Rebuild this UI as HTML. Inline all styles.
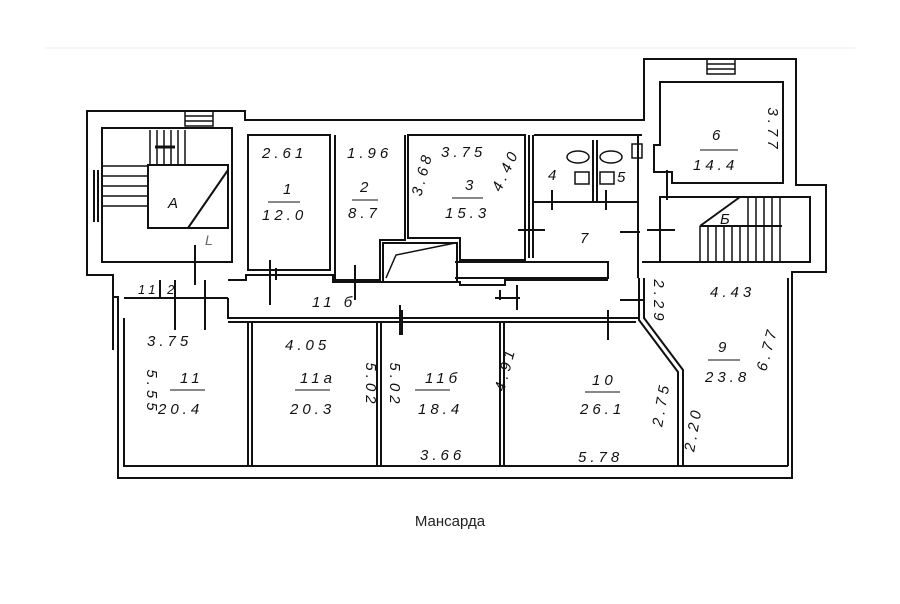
<!DOCTYPE html>
<html><head><meta charset="utf-8"><style>
html,body{margin:0;padding:0;background:#fff;width:900px;height:604px;overflow:hidden}
svg{position:absolute;left:0;top:0}
.t{font-family:"Liberation Sans",sans-serif;font-style:italic;font-size:15px;fill:#111;letter-spacing:4px}
.r{text-anchor:middle}
</style></head><body>
<svg width="900" height="604" viewBox="0 0 900 604">
<line x1="45" y1="48" x2="855" y2="48" stroke="#eee" stroke-width="1"/>
<g fill="none" stroke="#111" stroke-width="2">
<path d="M87,111 H245 V120 H644 V59 H796 V185 H826 V272 H792 V478 H118 V297 H113 V275 H87 Z"/>
<path d="M102,128 H232 V262 H102 Z"/>
<path d="M148,165 H228 V228 H148 Z"/>
<path d="M102,166 H148 M102,176 H148 M102,186 H148 M102,196 H148 M102,206 H148" stroke-width="1.5"/>
<path d="M150,130 V165 M157,130 V165 M164,130 V165 M171,130 V165 M178,130 V165 M185,130 V165" stroke-width="1.5"/>
<path d="M188,228 L228,170" />
<path d="M185,111 H213 V126 H185 Z M185,116 H213 M185,121 H213" stroke-width="1.5"/>
<path d="M94,170 V222 M98,170 V222"/>
<path d="M248,135 V270 H330 V135 Z"/>
<path d="M335,135 V280 H380 V240 H405 V135" />
<path d="M408,135 V238 H460 V260 H525 V135 Z"/>
<path d="M383,243 H457 V282 H383 Z"/>
<path d="M386,278 L396,255 L455,243" stroke-width="1.5"/>
<path d="M529,135 V258 M533,135 V258"/>
<path d="M533,202 H638 M534,135 H642"/>
<path d="M593,140 V202 M597,140 V202"/>
<ellipse cx="578" cy="157" rx="11" ry="6" stroke-width="1.5"/>
<ellipse cx="611" cy="157" rx="11" ry="6" stroke-width="1.5"/>
<rect x="575" y="172" width="14" height="12" stroke-width="1.5"/>
<rect x="600" y="172" width="14" height="12" stroke-width="1.5"/>
<rect x="632" y="144" width="10" height="14" stroke-width="1.5"/>
<path d="M455,262 H608 V278 H455" />
<path d="M228,280 H246 V275 H333 V282 H460 V285 H505 V280 H608"/>
<path d="M228,298 V318 H638"/>
<path d="M228,322 H636"/>
<path d="M639,278 V320 L678,372 V466"/>
<path d="M644,278 V318 L683,370 V466"/>
<path d="M638,136 V278 M642,262 H792"/>
<path d="M660,82 H783 V183 H672 V172 H654 V145 H660 Z"/>
<path d="M707,59 H735 V74 H707 Z M707,64 H735 M707,69 H735" stroke-width="1.5"/>
<path d="M660,197 H810 V262 H660 Z"/>
<path d="M700,226 L740,197 M700,226 H782" />
<path d="M700,226 V262 M708,226 V262 M716,226 V262 M724,226 V262 M732,226 V262 M740,226 V262 M748,197 V262 M756,197 V262 M764,197 V262 M772,197 V262 M780,197 V262" stroke-width="1.5"/>
<path d="M124,318 V466 H788"/>
<path d="M124,298 H228"/>
<path d="M248,322 V466 M252,322 V466"/>
<path d="M377,322 V466 M381,322 V466"/>
<path d="M500,322 V466 M504,322 V466"/>
<path d="M788,278 V466"/>
<path d="M160,280 V298"/>
<path d="M113,297 V350 M118,297 V350"/>
<path d="M175,280 V330 M205,280 V330 M195,245 V285 M270,260 V305 M355,265 V300 M400,305 V335 M495,298 H520 M517,285 V310 M608,310 V340 M620,300 H645 M500,290 V300 M647,230 H675 M667,170 V200 M518,230 H545 M606,190 V210 M552,190 V210 M620,232 H640 M402,310 V335 M276,268 V280"/>
<path d="M155,147 H175" stroke-width="3"/>
</g>
<g class="t">
<text x="262" y="158">2.61</text><text x="283" y="194">1</text><line x1="268" y1="202" x2="300" y2="202" stroke="#111"/><text x="262" y="220">12.0</text>
<text x="347" y="158">1.96</text><text x="360" y="192">2</text><line x1="352" y1="200" x2="378" y2="200" stroke="#111"/><text x="348" y="218">8.7</text>
<text x="441" y="157">3.75</text><text x="465" y="190">3</text><line x1="452" y1="198" x2="483" y2="198" stroke="#111"/><text x="445" y="218">15.3</text>
<text class="r" transform="translate(427,175) rotate(-75)">3.68</text>
<text class="r" transform="translate(510,172) rotate(-65)">4.40</text>
<text x="548" y="180">4</text><text x="617" y="182">5</text><text x="580" y="243">7</text>
<text x="712" y="140">6</text><line x1="700" y1="150" x2="738" y2="150" stroke="#111"/>
<text x="693" y="170">14.4</text>
<text class="r" transform="translate(768,130) rotate(90)">3.77</text>
<text x="720" y="224">Б</text><text x="168" y="208">А</text>
<text x="138" y="294" style="font-size:13px">11 2</text>
<text x="312" y="307">11 б</text>
<text x="147" y="346">3.75</text><text x="180" y="383">11</text><line x1="170" y1="390" x2="205" y2="390" stroke="#111"/><text x="158" y="414">20.4</text>
<text class="r" transform="translate(147,392) rotate(90)">5.55</text>
<text x="285" y="350">4.05</text><text x="300" y="383">11a</text><line x1="295" y1="390" x2="330" y2="390" stroke="#111"/><text x="290" y="414">20.3</text>
<text class="r" transform="translate(366,385) rotate(90)">5.02</text>
<text class="r" transform="translate(390,385) rotate(90)">5.02</text>
<text x="425" y="383">11б</text><line x1="415" y1="390" x2="450" y2="390" stroke="#111"/><text x="418" y="414">18.4</text>
<text x="420" y="460">3.66</text>
<text class="r" transform="translate(510,370) rotate(-75)">4.91</text>
<text x="592" y="385">10</text><line x1="585" y1="392" x2="620" y2="392" stroke="#111"/><text x="580" y="414">26.1</text>
<text x="578" y="462">5.78</text>
<text x="710" y="297">4.43</text><text x="718" y="352">9</text><line x1="708" y1="360" x2="740" y2="360" stroke="#111"/><text x="705" y="382">23.8</text>
<text class="r" transform="translate(654,302) rotate(90)">2.29</text>
<text class="r" transform="translate(772,350) rotate(-75)">6.77</text>
<text class="r" transform="translate(666,405) rotate(-80)">2.75</text>
<text class="r" transform="translate(698,430) rotate(-80)">2.20</text>
<text x="205" y="245" style="fill:#666;font-size:14px">L</text>
</g>
<text x="450" y="526" text-anchor="middle" font-family="Liberation Sans, sans-serif" font-size="15" fill="#222">Мансарда</text>
</svg>
</body></html>
